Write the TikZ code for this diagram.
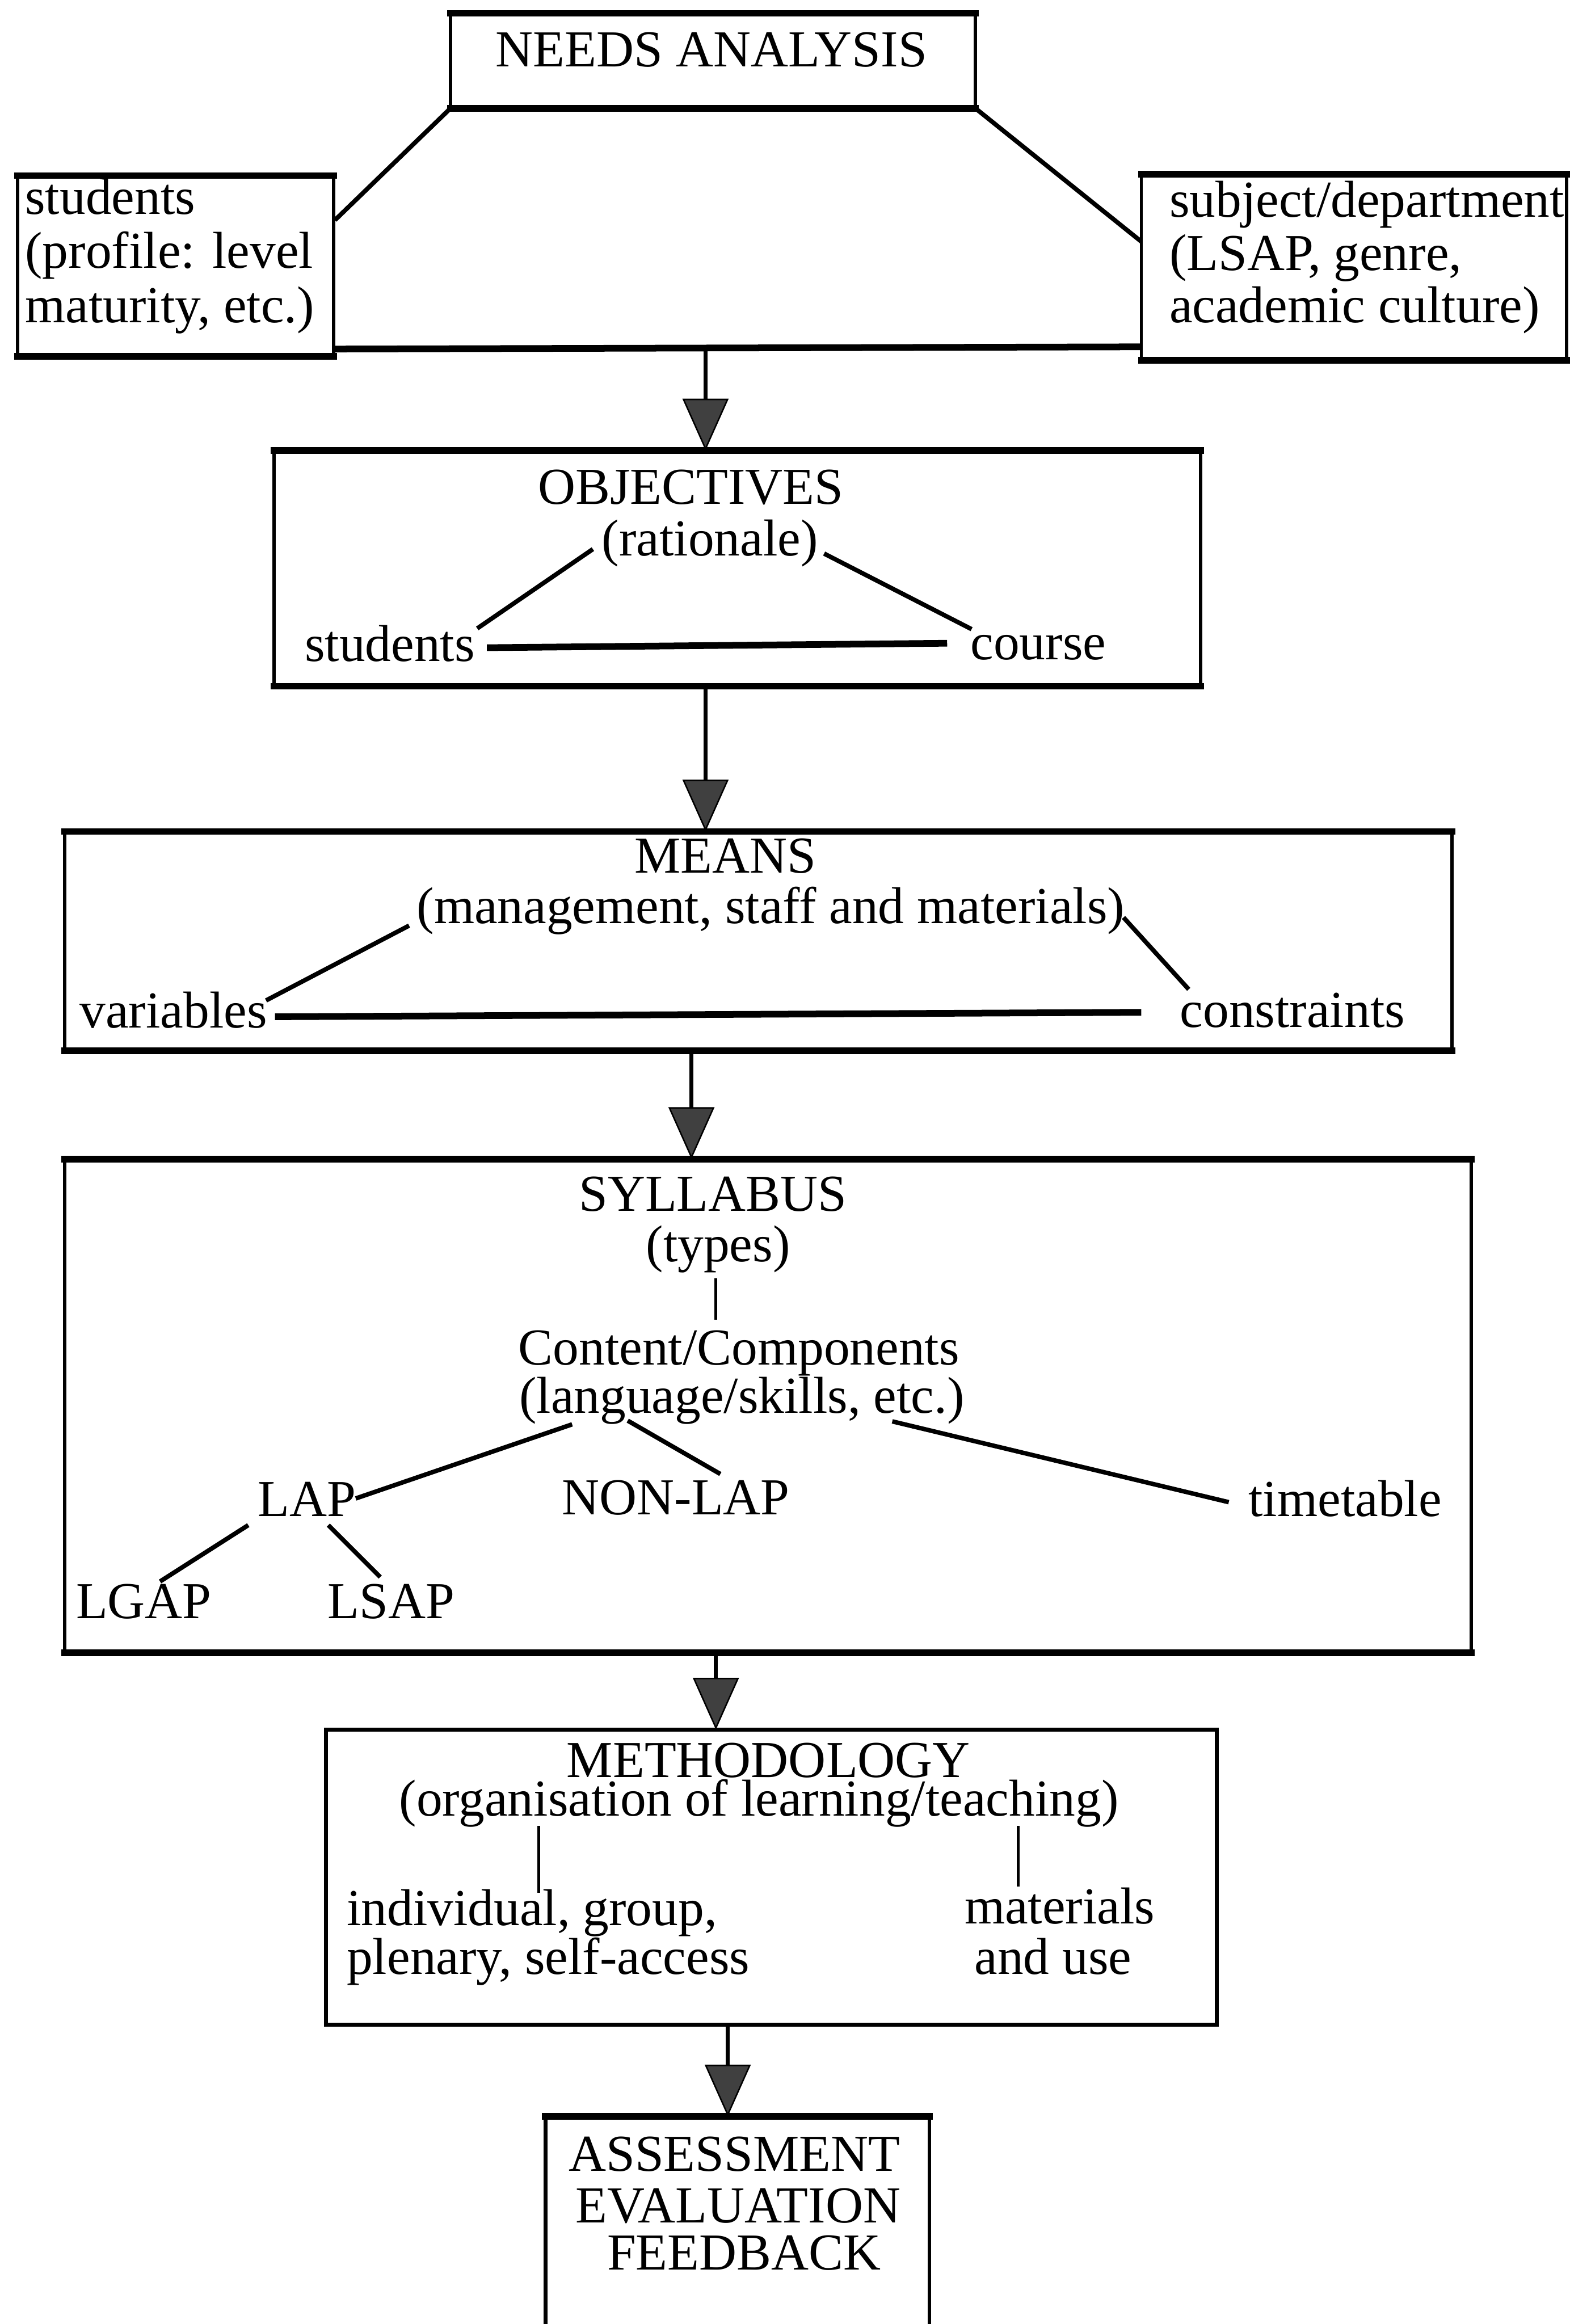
\documentclass[tikz,border=0pt]{standalone}
\usepackage{fontspec}
\setmainfont{Liberation Serif}
\usetikzlibrary{arrows.meta}
\begin{document}
\begin{tikzpicture}[x=1pt,y=-1pt,
  boxnode/.style={draw, line width=2.2pt, inner sep=0pt, outer sep=0pt},
  edge/.style={line width=4.5pt, line cap=rect},
  t/.style={inner sep=0pt, outer sep=0pt, anchor=base, font=\fontsize{35}{35}\selectfont},
  tl/.style={t, anchor=base west},
  ln/.style={line width=3pt},
  hln/.style={line width=4.5pt},
  thinln/.style={line width=2pt},
  arr/.style={line width=2.5pt, -{Triangle[width=31pt,length=35pt,fill=black!75,line width=1pt]}},
]
\useasboundingbox (0,0) rectangle (1059,1568);

% ---------- boxes ----------
\node[boxnode, minimum width=354, minimum height=64] (needs) at (481,41) {};
\node[boxnode, minimum width=213, minimum height=122] (stud) at (118.5,179.5) {};
\node[boxnode, minimum width=287, minimum height=125.5] (subj) at (913.5,180.25) {};
\node[boxnode, minimum width=625, minimum height=159] (obj) at (497.5,383.5) {};
\node[boxnode, minimum width=936, minimum height=148] (means) at (511.5,635) {};
\node[boxnode, minimum width=949, minimum height=333] (syl) at (518,948.5) {};
\node[boxnode, line width=2.6pt, minimum width=601, minimum height=199] (meth) at (520.5,1266.5) {};
\node[inner sep=0pt, outer sep=0pt, minimum width=259, minimum height=144] (assess) at (497.5,1500) {};
\draw[line width=2.6pt] (assess.south west) -- (assess.north west) -- (assess.north east) -- (assess.south east);

% heavier top and bottom edges, as in the scan
\foreach \b in {needs,stud,subj,obj,means,syl}{
  \draw[edge] (\b.north west) -- (\b.north east);
  \draw[edge] (\b.south west) -- (\b.south east);
}
\draw[edge] (assess.north west) -- (assess.north east);

% ---------- texts ----------
\node[t] (tneeds) at (480,45) {NEEDS ANALYSIS};

\node[tl] (st1) at (17,144.5) {students};
\node[tl] (st2) at (17,181) {(profile: level};
\node[tl] (st3) at (17,217.5) {maturity, etc.)};

\node[tl] (sb1) at (789,146.5) {subject/department};
\node[tl] (sb2) at (789,182.5) {(LSAP, genre,};
\node[tl] (sb3) at (789,217.5) {academic culture)};

\node[t] (tobj) at (466,340) {OBJECTIVES};
\node[t] (trat) at (479,375) {(rationale)};
\node[t] (tstu) at (263,446) {students};
\node[t] (tcou) at (700.5,445) {course};

\node[t] (tmeans) at (489.5,589) {MEANS};
\node[t] (tmgmt) at (520,623) {(management, staff and materials)};
\node[t] (tvar) at (117,693.5) {variables};
\node[t] (tcon) at (872,693) {constraints};

\node[t] (tsyl) at (481,817) {SYLLABUS};
\node[t] (ttyp) at (484.5,851) {(types)};
\node[t] (tcc) at (498.5,921) {Content/Components};
\node[t] (tlang) at (500.5,953.5) {(language/skills, etc.)};
\node[t] (tlap) at (207,1023) {LAP};
\node[t] (tnon) at (456,1022) {NON-LAP};
\node[t] (ttime) at (907.5,1023) {timetable};
\node[t] (tlgap) at (97,1092) {LGAP};
\node[t] (tlsap) at (264,1092) {LSAP};

\node[t] (tmeth) at (518.5,1199) {METHODOLOGY};
\node[t] (torg) at (512,1225) {(organisation of learning/teaching)};
\node[tl] (tind1) at (234,1299) {individual, group,};
\node[tl] (tind2) at (234,1332) {plenary, self-access};
\node[t] (tmat1) at (715,1298) {materials};
\node[t] (tmat2) at (710.5,1332) {and use};

\node[t] (tass) at (495.5,1465) {ASSESSMENT};
\node[t] (teva) at (498,1499.5) {EVALUATION};
\node[t] (tfee) at (502,1531.5) {FEEDBACK};

% ---------- connector end points ----------
\coordinate (nsl) at (226,148.5);
\coordinate (nsr) at (770,163);
\coordinate (hb1) at (225,235.5);
\coordinate (hb2) at (770,234);

\coordinate (o1a) at (400,370.5);  \coordinate (o1b) at (322,424);
\coordinate (o2a) at (556,373.5);  \coordinate (o2b) at (655.5,424.5);
\coordinate (o3a) at (328.5,437);  \coordinate (o3b) at (639,434);

\coordinate (m1a) at (276,624.5);  \coordinate (m1b) at (179.5,675);
\coordinate (m2a) at (758,619);    \coordinate (m2b) at (802,667.5);
\coordinate (m3a) at (185.5,686);  \coordinate (m3b) at (770,683);

\coordinate (s0a) at (483,862.5);  \coordinate (s0b) at (483,890.5);
\coordinate (s1a) at (386,961);    \coordinate (s1b) at (240,1011);
\coordinate (s2a) at (423.5,958.5);\coordinate (s2b) at (486,994.5);
\coordinate (s3a) at (602,959);    \coordinate (s3b) at (829,1013.5);
\coordinate (s4a) at (167.5,1029); \coordinate (s4b) at (108,1067);
\coordinate (s5a) at (221.5,1029); \coordinate (s5b) at (256.5,1064);

\coordinate (d1a) at (363.5,1232); \coordinate (d1b) at (363.5,1277);
\coordinate (d2a) at (687,1232);   \coordinate (d2b) at (687,1273);

\coordinate (a1) at (476,235);
\coordinate (a2) at (476,463);
\coordinate (a3) at (466.5,709);
\coordinate (a4) at (483,1115);
\coordinate (a5) at (491,1366);

% ---------- connectors ----------
\draw[ln] (needs.south west) -- (nsl);
\draw[ln] (needs.south east) -- (nsr);
\draw[hln] (hb1) -- (hb2);

\draw[ln] (o1a) -- (o1b);
\draw[ln] (o2a) -- (o2b);
\draw[hln] (o3a) -- (o3b);

\draw[ln] (m1a) -- (m1b);
\draw[ln] (m2a) -- (m2b);
\draw[hln] (m3a) -- (m3b);

\draw[thinln] (s0a) -- (s0b);
\draw[ln] (s1a) -- (s1b);
\draw[ln] (s2a) -- (s2b);
\draw[ln] (s3a) -- (s3b);
\draw[ln] (s4a) -- (s4b);
\draw[ln] (s5a) -- (s5b);

\draw[thinln] (d1a) -- (d1b);
\draw[thinln] (d2a) -- (d2b);

\draw[arr] (a1) -- (a1 |- obj.north);
\draw[arr] (a2) -- (a2 |- means.north);
\draw[arr] (a3) -- (a3 |- syl.north);
\draw[arr] (a4) -- (a4 |- meth.north);
\draw[arr] (a5) -- (a5 |- assess.north);
\end{tikzpicture}
\end{document}
